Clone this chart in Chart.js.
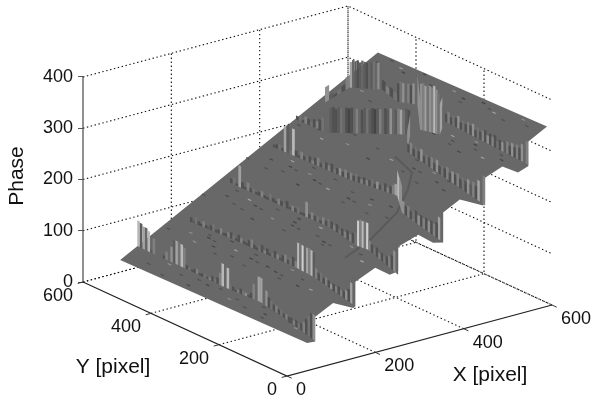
<!DOCTYPE html>
<html>
<head>
<meta charset="utf-8">
<style>
  html, body { margin: 0; background: #fff; }
  canvas { display: block; filter: blur(0.45px); }
</style>
<script src="https://cdn.jsdelivr.net/npm/chart.js@4/dist/chart.umd.js"></script>
</head>
<body>
<canvas id="myChart" width="591" height="402"></canvas>
<script>
// axis ticks
const xTicks = [0, 200, 400, 600];
const yTicks = [0, 200, 400, 600];
const zTicks = [0, 100, 200, 300, 400];

// outline of the phase surface, going left corner > top > right > down the steps
const edgeX = [31, 586, 598, 525, 525, 490, 486, 427, 427, 414, 399, 335, 335, 318, 303, 307, 241, 241, 218, 219, 147, 147, 139, 126, 57, 57, 41];
const edgeY = [531, 494, 12, -28, -28, -43, -2, -28, -28, -39, 10, -24, -24, -46, -36, 13, -14, -14, -19, 25, -10, -10, -14, 28, -9, -9, -6];
const edgeZ = [57, 345, 345, 345, 297, 297, 297, 297, 249, 249, 249, 249, 201, 201, 201, 201, 201, 153, 153, 153, 153, 105, 105, 105, 105, 57, 57];

// seam that runs across the steps
const seamX = [440, 415, 356, 345, 299, 207];
const seamY = [254, 171, 107, 125, 144, 98];
const seamZ = [249, 249, 249, 201, 153, 153];

// walls between the steps: path on the lower level, strips per path piece, height and grey level of each strip
const wall1X = [99, 98, 98, 96, 101, 82, 58];
const wall1Y = [569, 545, 448, 310, 210, 97, -7];
const wall1Z = 57;
const wall1Count = [3, 13, 18, 14, 12, 10];
const wall1Rise = [50,48,44, 44,40,6,30,0,0,0,6,16,0,30,44,46, 46,44,40,8,6,4,8,10,4,6,8,4,6,10,8,12,24,44, 46,40,10,8,4,6,10,8,6,4,10,30,48,48, 48,46,30,20,16,12,14,10,12,8,10,8, 10,8,12,10,14,20,30,40,48,50];
const wall1Shade = [8,2,7, 3,8,2,5,3,3,3,1,5,3,6,2,7, 4,8,5,1,4,1,1,5,1,1,4,1,5,1,4,1,5,8, 3,8,4,1,1,5,1,4,6,1,1,5,3,7, 7,3,6,1,4,1,5,1,4,1,5,1, 1,5,1,4,1,5,1,4,1,6];

const wall2X = [173, 180, 183, 178, 148];
const wall2Y = [510, 402, 208, 149, -8];
const wall2Z = 105;
const wall2Count = [16, 26, 8, 16];
const wall2Rise = [10,5,14,8,5,12,6,5,10,14,5,8,12,5,6,10, 12,8,5,14,10,6,5,12,16,8,5,10,14,6,12,5,8,14,10,5,12,16,8,14,18,12, 50,52,50,52,50,52,50,48, 20,14,18,12,16,14,10,14,12,16,12,14,18,24,40,54];
const wall2Shade = [1,2,4,1,1,5,1,2,1,4,1,1,5,1,1,5, 1,4,1,1,5,1,1,1,5,1,1,4,1,5,1,1,4,1,5,1,1,5,1,4,1,5, 8,4,9,3,7,5,8,2, 5,1,4,1,5,1,6,1,5,1,5,1,6,1,7,3];

const wall3X = [275, 279, 261, 265, 230];
const wall3Y = [525, 235, 133, 105, -28];
const wall3Z = 153;
const wall3Count = [36, 10, 5, 12];
const wall3Rise = [10,14,5,42,12,5,16,8,10,5,8,12,6,5,14,8,5,12,10,6,14,5,10,8,12,5,6,30,8,14,10,12,6,14,10,16, 14,10,16,8,14,12,18,14,20,24, 50,54,52,54,52, 20,16,14,18,12,16,14,18,22,28,40,56];
const wall3Shade = [1,4,1,7,1,1,5,1,4,1,1,5,1,1,4,1,1,5,1,4,1,1,5,1,4,1,1,6,1,5,1,4,1,5,1,4, 1,5,1,4,1,5,1,5,1,4, 9,5,8,4,9, 5,1,4,1,5,1,4,1,5,1,6,3];

const wall4X = [372, 380, 398, 352, 318];
const wall4Y = [525, 309, 193, 119, -46];
const wall4Z = 201;
const wall4Count = [28, 18, 2, 16];
const wall4Rise = [5,8,10,5,50,54,8,52,12,5,14,8,10,12,6,14,16,8,12,14,10,16,8,12,14,10,16,12, 14,10,16,12,8,14,10,12,16,8,14,10,12,16,10,14,18,22, 50,52, 24,18,22,16,20,24,18,22,20,24,22,26,24,30,44,58];
const wall4Shade = [1,1,4,1,7,2,4,8,1,1,5,1,4,1,5,1,5,1,4,1,5,1,4,1,6,1,5,1, 5,1,4,1,5,1,5,1,4,1,6,1,4,1,5,1,5,7, 8,6, 6,1,5,1,4,1,6,1,5,1,6,1,5,1,7,3];

const wall5X = [413, 417, 530, 473, 417];
const wall5Y = [510, 424, 326, 261, -41];
const wall5Z = 249;
const wall5Count = [11, 32, 1, 30];
const wall5Rise = [8,10,5,14,12,8,16,14,20,26,40, 50,48,50,46,50,48,46,50,48,50,46,48,50,46,50,48,46,50,48,50,48,46,50,48,50,46,48,50,48,46,50,48, 40, 16,22,14,20,16,24,14,20,18,22,14,24,16,20,18,24,16,22,20,26,18,24,20,28,22,30,26,40,50,56];
const wall5Shade = [1,4,1,5,1,4,1,5,1,4,3, 3,2,1,1,2,4,3,1,0,1,3,5,3,1,2,4,2,1,0,2,5,3,1,2,6,3,2,5,7,4,2,1, 6, 1,5,1,4,1,6,1,4,1,5,1,6,1,4,1,5,1,6,1,5,1,4,1,6,2,5,1,7,3,5];

const wall6X = [431, 513, 553, 537, 557, 483, 496, 544, 529];
const wall6Y = [448, 482, 439, 374, 340, 236, 195, 242, -22];
const wall6Z = 297;
const wall6Count = [6, 14, 4, 8, 1, 9, 2, 34];
const wall6Rise = [30,10,5,8,12,24, 50,54,52,54,50,54,52,50,54,52,54,50,52,50, 20,14,18,16, 36,40,38,40,38,36,40,38, 60, 90,92,88,92,90,88,92,86,80, 60,40, 16,22,14,20,18,24,14,20,16,22,18,24,14,22,16,20,24,16,22,18,24,14,20,18,22,24,18,26,20,28,24,34,42,44];
const wall6Shade = [6,2,1,4,1,5, 7,3,2,1,2,3,2,1,3,2,4,3,6,3, 1,5,1,4, 1,4,6,3,5,1,6,3, 6, 6,5,7,4,6,5,8,6,4, 7,3, 1,5,1,4,1,6,1,4,1,5,1,6,1,4,1,5,1,6,1,5,1,4,1,6,2,5,1,6,1,5,1,6,3,5];

// small flecks on each step: X, Y, grey level
const speckLevels = [57, 105, 153, 201, 249, 297, 345];
const specks0 = [[60,480,1],[72,400,1],[50,350,0],[85,300,1],[66,250,6],[90,180,1],[55,140,1],[80,90,1],[70,60,6],[45,420,1],[88,455,6],[62,200,1],[78,330,0],[82,360,1],[76,240,1],[70,150,0]];
const specks1 = [[120,500,1],[140,460,6],[160,430,1],[130,380,0],[150,340,7],[165,300,1],[115,270,1],[145,240,0],[170,200,6],[125,180,1],[155,150,1],[135,100,7],[165,70,1],[110,350,1],[172,380,0],[118,420,6],[150,420,0],[148,400,1],[146,290,0],[144,270,1],[140,210,0],[138,190,1],[128,130,0],[126,320,1]];
const specks2 = [[200,500,1],[230,470,0],[250,430,7],[210,400,1],[260,360,1],[225,330,6],[245,290,0],[205,270,1],[265,240,7],[235,210,1],[215,170,1],[250,130,6],[195,350,0],[240,90,1],[220,60,7],[260,480,1],[240,400,0],[238,380,1],[232,280,0],[230,260,1],[226,180,0],[224,160,1],[215,430,1],[262,300,0]];
const specks3 = [[300,500,1],[330,470,0],[355,440,7],[310,410,1],[340,370,6],[290,340,0],[360,320,1],[320,290,7],[345,250,1],[300,220,1],[330,180,6],[355,150,0],[315,110,1],[345,70,7],[295,440,1],[365,390,1],[335,420,0],[332,400,1],[328,340,0],[325,320,1],[320,230,0],[318,210,1],[300,150,1],[350,200,0]];
const specks4 = [[400,480,1],[430,440,0],[390,400,7],[450,380,1],[410,350,6],[440,300,1],[395,270,0],[425,240,7],[460,210,1],[405,180,1],[445,140,6],[420,100,0],[455,60,7],[390,120,1],[435,30,1],[415,440,1],[430,180,0],[428,160,1],[440,90,1],[405,60,0]];
const specks5 = [[490,200,0],[510,170,7],[480,140,1],[525,120,6],[500,90,1],[485,50,7],[520,40,1],[505,20,0],[500,400,1],[520,450,6],[515,110,0],[495,150,1],[470,100,0]];
const specks6 = [[555,450,1],[570,400,7],[585,350,0],[560,300,1],[575,250,6],[550,200,1],[580,170,0],[565,120,7],[555,80,1],[585,60,6],[570,30,1],[560,380,0],[580,440,1],[565,210,0],[570,140,1]];

const greys = [68, 80, 92, 103, 114, 128, 144, 162, 184, 206];
const topGrey = 'rgb(104,104,104)';

// the 3D view: turn X, Y, Phase into the flat x/y of the chart scales
function view(X, Y, Z) {
  return {
    x: 287 + X * 265 / 600 - Y * 204 / 600,
    y: Z + (X * 71 / 600 + Y * 94 / 600 - 94) / 0.5125
  };
}

const datasets = [];

function addLine(points, color, width, dash) {
  datasets.push({ data: points, showLine: true, borderColor: color, borderWidth: width, borderDash: dash || [], pointRadius: 0, fill: false, clip: false });
}

function addShape(points, color) {
  datasets.push({ data: points, showLine: true, borderWidth: 0, borderColor: color, backgroundColor: color, pointRadius: 0, fill: 'shape', clip: false });
}

// dotted grid on the floor and the two back walls
const dots = '#111';
xTicks.slice(1).forEach(function(t) {
  addLine([view(t, 0, 0), view(t, 600, 0), view(t, 600, 400)], dots, 1.1, [1.4, 2.6]);
});
yTicks.slice(1).forEach(function(t) {
  addLine([view(0, t, 0), view(600, t, 0), view(600, t, 400)], dots, 1.1, [1.4, 2.6]);
});
zTicks.forEach(function(t) {
  addLine([view(0, 600, t), view(600, 600, t), view(600, 0, t)], dots, 1.1, [1.4, 2.6]);
});

// solid axes and their tick marks
addLine([view(0, 600, 0), view(0, 600, 400)], '#555', 1.3);
addLine([view(0, 600, 0), view(0, 0, 0), view(600, 0, 0)], '#222', 1.2);
xTicks.forEach(function(t) { addLine([view(t, 0, 0), view(t, -14, 0)], '#333', 1); });
yTicks.forEach(function(t) { addLine([view(0, t, 0), view(-12, t, 0)], '#333', 1); });

// flat top of the surface
addShape(edgeX.map(function(v, i) { return view(v, edgeY[i], edgeZ[i]); }), topGrey);

[specks0, specks1, specks2, specks3, specks4, specks5, specks6].forEach(function(list, n) {
  list.forEach(function(s) {
    const g = greys[s[2]];
    addLine([view(s[0], s[1], speckLevels[n]), view(s[0], s[1] + 10, speckLevels[n])], 'rgb(' + g + ',' + g + ',' + g + ')', 1.2);
  });
});

function addWall(pathX, pathY, z, count, rise, shade) {
  let k = 0;
  count.forEach(function(n, seg) {
    for (let i = 0; i < n; i++, k++) {
      if (!rise[k]) continue;
      const x0 = pathX[seg] + (pathX[seg + 1] - pathX[seg]) * i / n;
      const y0 = pathY[seg] + (pathY[seg + 1] - pathY[seg]) * i / n;
      const x1 = pathX[seg] + (pathX[seg + 1] - pathX[seg]) * (i + 1) / n;
      const y1 = pathY[seg] + (pathY[seg + 1] - pathY[seg]) * (i + 1) / n;
      const g = greys[shade[k]];
      addShape([view(x0, y0, z), view(x1, y1, z), view(x1, y1, z + rise[k]), view(x0, y0, z + rise[k])], 'rgb(' + g + ',' + g + ',' + g + ')');
    }
  });
}

// back walls first so the nearer ones land on top
addWall(wall6X, wall6Y, wall6Z, wall6Count, wall6Rise, wall6Shade);
addWall(wall5X, wall5Y, wall5Z, wall5Count, wall5Rise, wall5Shade);
addLine(seamX.map(function(v, i) { return view(v, seamY[i], seamZ[i]); }), '#5a5a5a', 2);
addWall(wall4X, wall4Y, wall4Z, wall4Count, wall4Rise, wall4Shade);
addWall(wall3X, wall3Y, wall3Z, wall3Count, wall3Rise, wall3Shade);
addWall(wall2X, wall2Y, wall2Z, wall2Count, wall2Rise, wall2Shade);
addWall(wall1X, wall1Y, wall1Z, wall1Count, wall1Rise, wall1Shade);

// chart.js paints the first dataset last
datasets.reverse();

const labelFont = '"Liberation Sans", Arial, sans-serif';

const axisText = {
  id: 'axisText',
  afterDraw(chart) {
    const ctx = chart.ctx;
    const sx = chart.scales.x;
    const sy = chart.scales.y;
    ctx.save();
    ctx.fillStyle = '#111';
    ctx.textBaseline = 'middle';
    ctx.font = '18px ' + labelFont;
    ctx.textAlign = 'left';
    xTicks.forEach(function(t) {
      const p = view(t, 0, 0);
      ctx.fillText(String(t), sx.getPixelForValue(p.x) + 9, sy.getPixelForValue(p.y) + 14);
    });
    ctx.textAlign = 'right';
    yTicks.forEach(function(t) {
      const p = view(0, t, 0);
      ctx.fillText(String(t), sx.getPixelForValue(p.x) - 10, sy.getPixelForValue(p.y) + 14);
    });
    ctx.font = '21px ' + labelFont;
    ctx.textAlign = 'center';
    ctx.fillText('X [pixel]', 490, 375);
    ctx.fillText('Y [pixel]', 113, 367);
    ctx.translate(17, 176);
    ctx.rotate(-Math.PI / 2);
    ctx.fillText('Phase', 0, 0);
    ctx.restore();
  }
};

const myChart = new Chart(document.getElementById('myChart'), {
  type: 'scatter',
  data: { datasets: datasets },
  plugins: [axisText],
  options: {
    responsive: false,
    animation: false,
    events: [],
    layout: { padding: 0 },
    plugins: { legend: { display: false }, tooltip: { enabled: false } },
    scales: {
      x: { type: 'linear', display: false, min: 83, max: 591 },
      y: {
        type: 'linear',
        min: -234.1,
        max: 550.2,
        // full height chart area, the surface needs all of it
        afterFit(scale) { scale.width = 83; scale.paddingTop = 0; scale.paddingBottom = 0; },
        afterBuildTicks(scale) { scale.ticks = zTicks.map(function(v) { return { value: v }; }); },
        border: { display: false },
        grid: { drawOnChartArea: false, tickLength: 5, color: '#555' },
        ticks: { color: '#111', padding: 5, font: { family: labelFont, size: 18 } }
      }
    }
  }
});
</script>
</body>
</html>
